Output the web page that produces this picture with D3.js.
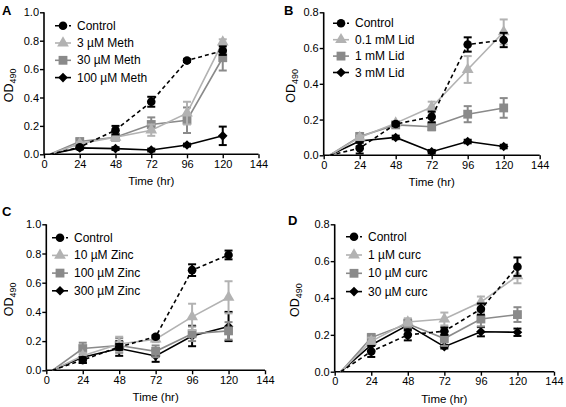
<!DOCTYPE html>
<html><head><meta charset="utf-8">
<script src="https://cdn.jsdelivr.net/npm/d3@7"></script>
<style>body{margin:0;background:#fff} text{font-family:Arial,"Liberation Sans",Helvetica,sans-serif;fill:#000}</style>
</head><body><svg id="c" width="566" height="407"></svg>
<script>
// ---- data ----
const times = [24, 48, 72, 96, 120];
const startTime = 4;          // curves start from OD 0 here
const xTicks = [0, 24, 48, 72, 96, 120, 144];
const yTicks10 = [0, 0.2, 0.4, 0.6, 0.8, 1.0];
const yTicks08 = [0, 0.2, 0.4, 0.6, 0.8];

const labelsA = ["Control", "3 \u00b5M Meth", "30 \u00b5M Meth", "100 \u00b5M Meth"];
const meanA = [
  [0.05, 0.17, 0.37, 0.66, 0.73],
  [0.075, 0.12, 0.17, 0.29, 0.79],
  [0.09, 0.12, 0.21, 0.24, 0.68],
  [0.045, 0.04, 0.03, 0.065, 0.13]];
const errA = [
  [0.01, 0.03, 0.035, 0.01, 0.03],
  [0.01, 0.02, 0.04, 0.08, 0.02],
  [0.02, 0.02, 0.05, 0.09, 0.09],
  [0.01, 0.01, 0.01, 0.01, 0.065]];

const labelsB = ["Control", "0.1 mM Lid", "1 mM Lid", "3 mM Lid"];
const meanB = [
  [0.04, 0.175, 0.215, 0.62, 0.645],
  [0.10, 0.18, 0.27, 0.48, 0.69],
  [0.105, 0.17, 0.16, 0.23, 0.265],
  [0.08, 0.10, 0.02, 0.077, 0.049]];
const errB = [
  [0.03, 0.01, 0.03, 0.04, 0.04],
  [0.01, 0.01, 0.03, 0.075, 0.07],
  [0.02, 0.01, 0.02, 0.045, 0.055],
  [0.03, 0.01, 0.01, 0.01, 0.01]];

const labelsC = ["Control", "10 \u00b5M Zinc", "100 \u00b5M Zinc", "300 \u00b5M Zinc"];
const meanC = [
  [0.07, 0.16, 0.23, 0.686, 0.79],
  [0.10, 0.18, 0.213, 0.366, 0.50],
  [0.149, 0.17, 0.13, 0.25, 0.27],
  [0.09, 0.149, 0.098, 0.235, 0.30]];
const errC = [
  [0.02, 0.02, 0.01, 0.04, 0.03],
  [0.02, 0.05, 0.02, 0.09, 0.11],
  [0.04, 0.05, 0.04, 0.05, 0.06],
  [0.04, 0.05, 0.04, 0.07, 0.10]];

const labelsD = ["Control", "1 \u00b5M curc", "10 \u00b5M curc", "30 \u00b5M curc"];
const meanD = [
  [0.11, 0.20, 0.22, 0.34, 0.57],
  [0.165, 0.27, 0.286, 0.378, 0.52],
  [0.185, 0.26, 0.18, 0.286, 0.31],
  [0.145, 0.253, 0.136, 0.217, 0.214]];
const errD = [
  [0.03, 0.03, 0.02, 0.03, 0.05],
  [0.02, 0.02, 0.035, 0.03, 0.04],
  [0.02, 0.02, 0.04, 0.04, 0.04],
  [0.03, 0.03, 0.01, 0.025, 0.02]];

// ---- styling ----
const colors = ["#000000", "#b2b2b2", "#8a8a8a", "#000000"];
const shapes = [d3.symbolCircle, d3.symbolTriangle, d3.symbolSquare, d3.symbolSquare];
const sizes = [58, 60, 78, 46];
const rotations = [0, 0, 0, 45];
const dashes = ["4,3", null, null, null];

const panels = [
  {letter: "A", labels: labelsA, mean: meanA, err: errA, yMax: 1.0, yTicks: yTicks10,
   x0: 44, x1: 258.5, yT: 12.3, yB: 154.3, lx: 2, ly: 15, legX: 55, legY: 25.7, legDy: 17.3},
  {letter: "B", labels: labelsB, mean: meanB, err: errB, yMax: 0.8, yTicks: yTicks08,
   x0: 323.7, x1: 539.7, yT: 12.3, yB: 155.3, lx: 284, ly: 15, legX: 333, legY: 23.3, legDy: 16.4},
  {letter: "C", labels: labelsC, mean: meanC, err: errC, yMax: 1.0, yTicks: yTicks10,
   x0: 46.3, x1: 265, yT: 224.3, yB: 370.3, lx: 2, ly: 216, legX: 52, legY: 237.7, legDy: 17.7},
  {letter: "D", labels: labelsD, mean: meanD, err: errD, yMax: 0.8, yTicks: yTicks08,
   x0: 334.7, x1: 554, yT: 224.3, yB: 371.7, lx: 288, ly: 225, legX: 346, legY: 236.7, legDy: 18.3}
];

const svg = d3.select("#c");

panels.forEach(p => {
  const g = svg.append("g");
  const x = d3.scaleLinear().domain([0, 144]).range([p.x0, p.x1]);
  const y = d3.scaleLinear().domain([0, p.yMax]).range([p.yB, p.yT]);

  // axes
  const xa = g.append("g").attr("transform", `translate(0,${p.yB})`)
    .call(d3.axisBottom(x).tickValues(xTicks).tickSize(4).tickPadding(2).tickFormat(d3.format("d")));
  const ya = g.append("g").attr("transform", `translate(${p.x0},0)`)
    .call(d3.axisLeft(y).tickValues(p.yTicks).tickSize(4).tickPadding(1).tickFormat(d3.format(".1f")));
  [xa, ya].forEach(a => {
    a.select(".domain").attr("stroke", "#000").attr("stroke-width", 1.6);
    a.selectAll(".tick line").attr("stroke", "#000").attr("stroke-width", 1.4);
    a.selectAll(".tick text").attr("font-size", 11).attr("fill", "#000")
      .style("font-family", "Arial, 'Liberation Sans', sans-serif");
  });
  xa.select(".domain").attr("d", `M${p.x0},0H${p.x1}`);
  ya.select(".domain").attr("d", `M0,${p.yB}V${p.yT}`);

  // axis titles
  g.append("text").attr("x", (p.x0 + p.x1) / 2).attr("y", p.yB + 31)
    .attr("text-anchor", "middle").attr("font-size", 11.5).text("Time (hr)");
  const od = g.append("text")
    .attr("transform", `translate(${p.lx + 11},${(p.yT + p.yB) / 2 + 2}) rotate(-90)`)
    .attr("text-anchor", "middle").attr("font-size", 12.5);
  od.append("tspan").text("OD");
  od.append("tspan").attr("font-size", 9).attr("dy", 3).text("490");

  // panel letter
  g.append("text").attr("x", p.lx).attr("y", p.ly).attr("font-size", 13)
    .attr("font-weight", "bold").text(p.letter);

  const line = d3.line().x(d => x(d[0])).y(d => y(d[1]));

  // draw series in reverse order so control sits on top
  for (let s = p.labels.length - 1; s >= 0; s--) {
    const pts = [[startTime, 0]].concat(times.map((t, i) => [t, p.mean[s][i]]));
    g.append("path").attr("d", line(pts)).attr("fill", "none")
      .attr("stroke", colors[s]).attr("stroke-width", 1.6)
      .attr("stroke-dasharray", dashes[s]);
    const eg = g.append("g").attr("stroke", colors[s]).attr("stroke-width", 2).attr("fill", "none");
    times.forEach((t, i) => {
      const m = p.mean[s][i], e = p.err[s][i];
      const cx = x(t), yt = y(m + e), yb = y(m - e);
      eg.append("line").attr("x1", cx).attr("x2", cx).attr("y1", yt).attr("y2", yb);
      eg.append("line").attr("x1", cx - 4).attr("x2", cx + 4).attr("y1", yt).attr("y2", yt);
      eg.append("line").attr("x1", cx - 4).attr("x2", cx + 4).attr("y1", yb).attr("y2", yb);
    });
    const sym = d3.symbol().type(shapes[s]).size(sizes[s]);
    g.append("g").selectAll("path").data(times.map((t, i) => [t, p.mean[s][i]])).join("path")
      .attr("d", sym).attr("fill", colors[s])
      .attr("transform", d => `translate(${x(d[0])},${y(d[1])}) rotate(${rotations[s]})`);
  }

  // legend
  p.labels.forEach((lab, s) => {
    const ly = p.legY + s * p.legDy;
    const lg = g.append("g");
    lg.append("line").attr("x1", p.legX).attr("x2", p.legX + 16).attr("y1", ly).attr("y2", ly)
      .attr("stroke", colors[s]).attr("stroke-width", 1.6).attr("stroke-dasharray", dashes[s]);
    lg.append("path").attr("d", d3.symbol().type(shapes[s]).size(sizes[s]))
      .attr("fill", colors[s]).attr("transform", `translate(${p.legX + 8},${ly}) rotate(${rotations[s]})`);
    lg.append("text").attr("x", p.legX + 22).attr("y", ly + 4).attr("font-size", 12).text(lab);
  });
});
</script>
</body></html>
